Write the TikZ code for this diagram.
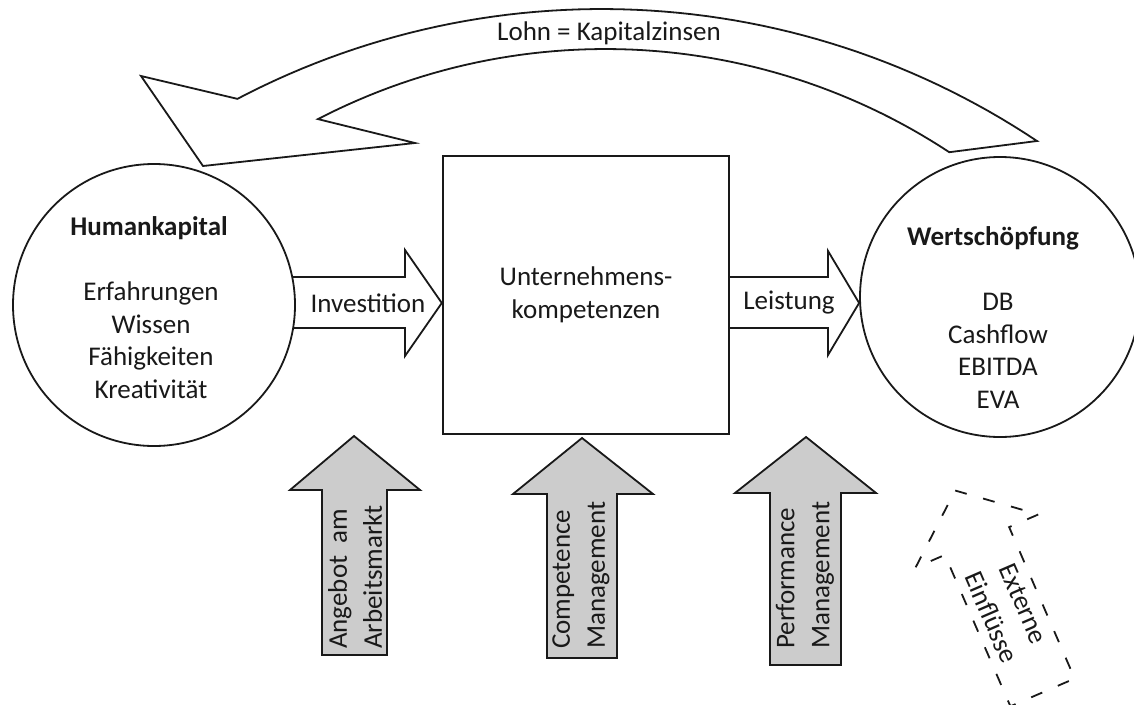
\documentclass[tikz,border=0pt]{standalone}
\usepackage{fontspec}
\setmainfont{Carlito}
\usetikzlibrary{calc}
\pgfdeclarelayer{background}
\pgfsetlayers{background,main}
\definecolor{ink}{RGB}{25,25,25}
\definecolor{shade}{RGB}{204,204,204}
\begin{document}
\begin{tikzpicture}[x=1pt, y=-1pt,
  font=\fontsize{27}{32.5}\selectfont,
  outline/.style={draw=ink, line width=1.8pt},
  blockarrow/.style={outline, fill=white},
  grayarrow/.style={outline, fill=shade},
  dasharrow/.style={draw=ink, line width=1.8pt, dash pattern=on 12pt off 17pt},
  bubble/.style={circle, outline, fill=white, inner sep=0pt},
  txt/.style={text=ink, inner sep=0pt, align=center},
  boldtxt/.style={txt, font=\fontsize{27}{32.5}\selectfont\bfseries},
  sidelabel/.style={rotate=90, anchor=west, align=left, text=ink, inner sep=0pt,
                    font=\fontsize{27}{35}\selectfont}]

% page frame
\path[use as bounding box] (0,0) rectangle (1134,704);

% main blocks
\node[bubble, minimum size=282pt] (hk) at (154,305) {};
\node[bubble, minimum size=280pt] (ws) at (1000,297) {};
\node[draw=ink, line width=2.4pt, fill=white, minimum width=286pt, minimum height=278pt,
      txt] (uk) at (586,295) {Unternehmens-\\kompetenzen};

\node[boldtxt] (hkt) at (149,228) {Humankapital};
\node[txt] (hkl) at (151,340) {Erfahrungen\\Wissen\\Fähigkeiten\\Kreativität};
\node[boldtxt] (wst) at (993,238) {Wertschöpfung};
\node[txt] (wsl) at (998,351) {DB\\Cashflow\\EBITDA\\EVA};

% flow arrows behind the blocks
\begin{pgfonlayer}{background}
  \fill[white] (0,0) rectangle (1134,704);
  \draw[blockarrow] (280,277) -- (405,277) -- (405,250) -- ($(uk.west)+(0,8)$)
    -- (405,356) -- (405,328) -- (280,328) -- cycle;
  \draw[blockarrow] (720,277) -- (828,277) -- (828,251) -- ($(ws.west)+(0,6)$)
    -- (828,355) -- (828,328) -- (720,328) -- cycle;
\end{pgfonlayer}
\node[txt] (inv) at (368,303) {Investition};
\node[txt] (leist) at (789,303) {Leistung};

% return arrow over the top
\draw[blockarrow] (1037,141)
  -- plot[domain=56.3:117.7, samples=60] ({601.7+783.8*cos(\x)}, {792.8-783.8*sin(\x)})
  -- (141,76) -- (203,166) -- (415,143)
  -- plot[domain=117.4:56.6, samples=60] ({605.4+624.7*cos(\x)}, {673.7-624.7*sin(\x)})
  -- cycle;
\node[txt] (lohn) at (609,33) {Lohn = Kapitalzinsen};

% influences from below
\draw[grayarrow] (354,436) -- (420,490) -- (387,490) -- (387,655) -- (322,655)
  -- (322,490) -- (290,490) -- cycle;
\draw[grayarrow] (582,438) -- (653,494) -- (617,494) -- (617,658) -- (547,658)
  -- (547,494) -- (513,494) -- cycle;
\draw[grayarrow] (806,437) -- (876,493) -- (841,493) -- (841,665) -- (770,665)
  -- (770,493) -- (735,493) -- cycle;
\node[sidelabel] (ang) at (355,649) {Angebot\ \ am\\Arbeitsmarkt};
\node[sidelabel] (comp) at (581,649) {Competence\\Management};
\node[sidelabel] (perf) at (805,649) {Performance\\Management};

% external influences, tilted and dashed
\begin{scope}[shift={(977,541)}, rotate=23.4]
  \draw[dasharrow] (0,-55) -- (67,0) -- (35,0) -- (35,165) -- (-35,165)
    -- (-35,0) -- (-67,0) -- cycle;
  \node[txt, rotate=-66.6, font=\fontsize{27}{35}\selectfont] (ext) at (0,76)
    {Externe\\Einflüsse};
\end{scope}
\end{tikzpicture}
\end{document}
